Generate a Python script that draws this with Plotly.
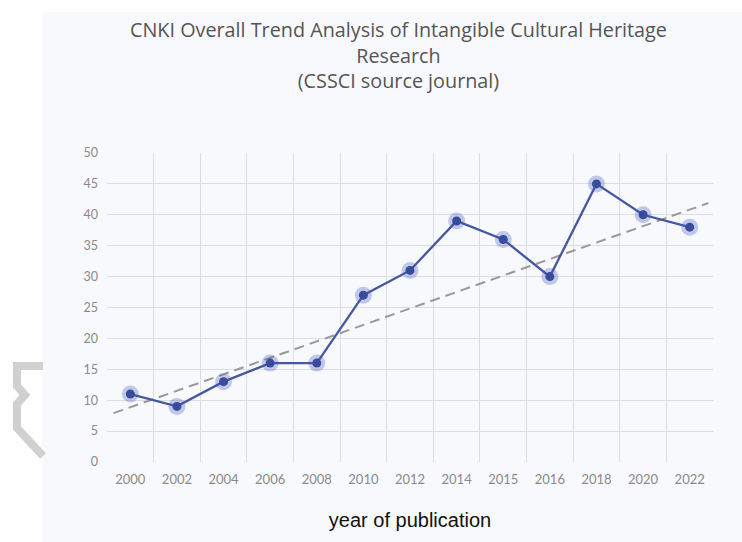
import plotly.graph_objects as go

years = ["2000", "2002", "2004", "2006", "2008", "2010", "2012", "2014", "2015", "2016", "2018", "2020", "2022"]
counts = [11, 9, 13, 16, 16, 27, 31, 39, 36, 30, 45, 40, 38]
trend_pos = [-0.36, 12.4]
trend_vals = [7.9, 41.9]
y_ticks = [0, 5, 10, 15, 20, 25, 30, 35, 40, 45, 50]
title_lines = ["CNKI Overall Trend Analysis of Intangible Cultural Heritage",
               "Research", "(CSSCI source journal)"]

W, H = 742, 542
L, R, T, B = 107, 29, 153, 80
PW, PH = W - L - R, H - T - B

def px(x):
    return (x - L) / PW

def py(y):
    return (H - B - y) / PH

idx = list(range(len(years)))
panel = "#f8f9fc"

fig = go.Figure()
fig.add_trace(go.Scatter(x=trend_pos, y=trend_vals, mode="lines",
                         line=dict(color="#999999", width=2, dash="10px,6px"),
                         hoverinfo="skip", showlegend=False))
fig.add_trace(go.Scatter(x=idx, y=counts, mode="markers",
                         marker=dict(size=17, color="rgba(70,95,190,0.32)"),
                         hoverinfo="skip", showlegend=False))
fig.add_trace(go.Scatter(x=idx, y=counts, mode="lines+markers",
                         line=dict(color="#4656a3", width=2.3),
                         marker=dict(size=9, color="#3a4b9c"),
                         showlegend=False))

shapes = [
    dict(type="rect", xref="paper", yref="paper", x0=px(42), x1=px(W + 5), y0=py(12), y1=py(H + 5),
         fillcolor=panel, line=dict(width=0), layer="below"),
    dict(type="path", xref="paper", yref="paper",
         path=("M {:.4f},{:.4f} L {:.4f},{:.4f} L {:.4f},{:.4f} L {:.4f},{:.4f} L {:.4f},{:.4f} "
               "L {:.4f},{:.4f} L {:.4f},{:.4f}").format(
             px(43), py(366), px(17), py(366), px(17), py(386), px(25), py(395),
             px(17), py(404), px(17), py(428), px(43), py(456)),
         line=dict(color="#d0d0d0", width=8), layer="below"),
]

annotations = [
    dict(text="<br>".join(title_lines), xref="paper", yref="paper", x=px(398), y=py(55),
         xanchor="center", yanchor="middle", align="center", showarrow=False,
         font=dict(family="Open Sans", size=19.8, color="#555555"))
]

fig.update_layout(
    width=W, height=H,
    margin=dict(l=L, r=R, t=T, b=B),
    paper_bgcolor="white",
    plot_bgcolor=panel,
    shapes=shapes,
    annotations=annotations,
    xaxis=dict(
        range=[-0.5, 12.5], tickmode="array", tickvals=idx, ticktext=years,
        showgrid=False, zeroline=False, showline=False, ticks="",
        ticklabelstandoff=8,
        tickfont=dict(family="Lato", size=13, color="#8a8a8a"),
        minor=dict(tickmode="linear", tick0=-0.5, dtick=1, showgrid=True,
                   gridcolor="#dedede", gridwidth=1, ticks=""),
        title=dict(text="year of publication", standoff=26,
                   font=dict(family="Liberation Sans", size=20, color="#111111")),
    ),
    yaxis=dict(
        range=[0, 50], tickmode="array", tickvals=y_ticks,
        showgrid=True, gridcolor="#dedede", gridwidth=1, zeroline=False,
        showline=False, ticks="", ticklabelstandoff=8,
        tickfont=dict(family="Lato", size=12.5, color="#8a8a8a"),
    ),
)

fig.write_html("out.html")
